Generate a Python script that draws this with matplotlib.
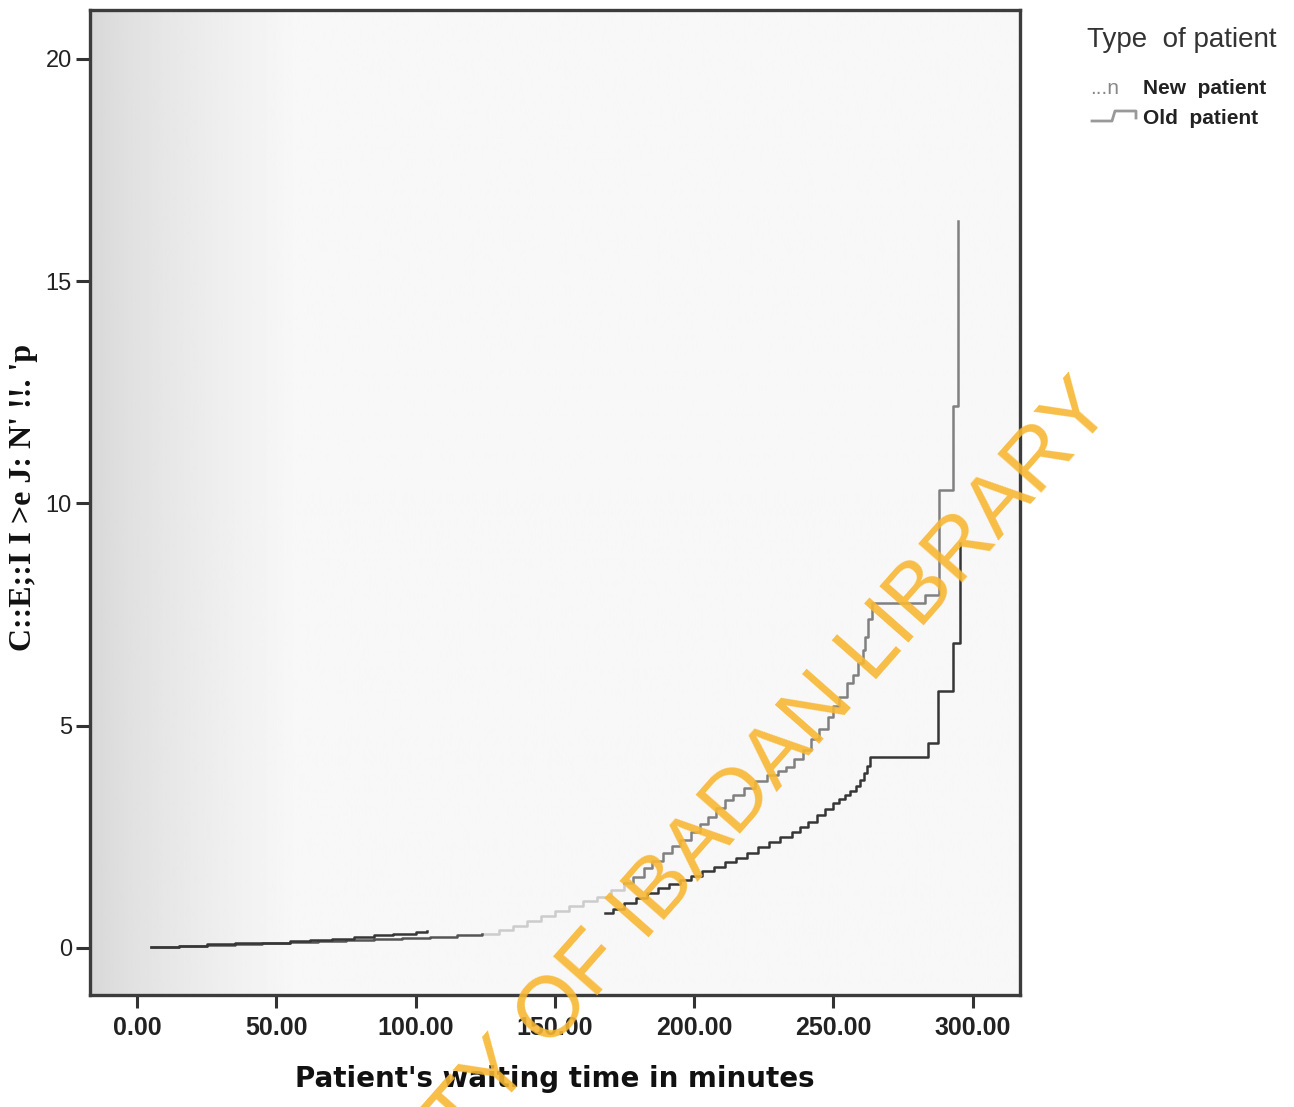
import numpy as np
import matplotlib
matplotlib.use("Agg")
import matplotlib.pyplot as plt
from matplotlib.lines import Line2D

# cumulative hazard
new_t = [5, 15, 25, 35, 45, 55, 65, 75, 85, 95, 105, 115, 124,
         130, 135, 140, 145, 150, 155, 160, 165, 170,
         175, 178, 182, 185, 189, 192, 195, 199, 202, 205, 208, 211, 214, 218,
         222, 226, 230, 233, 236, 239, 242, 245, 248, 250, 252, 255, 257, 259,
         260.5, 261.5, 262.5, 264, 283, 288, 293, 294.8]
new_h = [0.03, 0.05, 0.07, 0.09, 0.11, 0.13, 0.15, 0.17, 0.19, 0.22, 0.25, 0.28, 0.31,
         0.4, 0.5, 0.6, 0.72, 0.83, 0.95, 1.05, 1.15, 1.3,
         1.45, 1.6, 1.8, 1.95, 2.14, 2.3, 2.42, 2.6, 2.78, 2.95, 3.15, 3.33, 3.45, 3.6,
         3.75, 3.88, 3.98, 4.08, 4.25, 4.45, 4.7, 4.92, 5.2, 5.45, 5.65, 5.95, 6.15, 6.4,
         6.7, 7.0, 7.4, 7.75, 7.95, 10.3, 12.2, 16.35]

old_t = [5, 15, 25, 35, 45, 55, 62, 70, 78, 85, 92, 100, 104, np.nan,
         168, 171, 175, 179, 183, 187, 191, 195, 199, 203, 207, 211, 215, 219,
         223, 227, 231, 235, 238, 241, 244, 247, 250, 252, 254, 256, 258, 259.5,
         261, 262, 263, 284, 287.6, 293, 295.5]
old_h = [0.03, 0.05, 0.08, 0.1, 0.12, 0.15, 0.17, 0.2, 0.24, 0.28, 0.32, 0.36, 0.38, np.nan,
         0.79, 0.88, 1.0, 1.12, 1.24, 1.34, 1.44, 1.53, 1.62, 1.72, 1.83, 1.93, 2.03, 2.14,
         2.26, 2.38, 2.5, 2.6, 2.72, 2.84, 2.98, 3.12, 3.27, 3.36, 3.45, 3.52, 3.65, 3.78,
         3.94, 4.1, 4.3, 4.6, 5.77, 6.87, 9.12]

x_ticks = [0, 50, 100, 150, 200, 250, 300]
y_ticks = [0, 5, 10, 15, 20]

W, H = 1294, 1107
fig = plt.figure(figsize=(W / 100, H / 100), dpi=100)
ax = fig.add_axes([90 / W, 1 - 995 / H, 930 / W, 985 / H])
ax.set_xlim(-16.9, 317)
ax.set_ylim(-1.06, 21.1)

# scanned-paper shading, darkest at the left edge of the plot area
f = np.linspace(0, 1, 400)
grad = 0.84 + 0.13 * np.clip(f / 0.22, 0, 1) ** 0.7
ax.imshow(grad[None, :], extent=[0, 1, 0, 1], transform=ax.transAxes,
          cmap="gray", vmin=0, vmax=1, aspect="auto", zorder=0)

t_new = np.array(new_t)
h_new = np.array(new_h)
i1 = np.searchsorted(t_new, 124)
i2 = np.searchsorted(t_new, 175)
ax.plot(t_new[:i1 + 1], h_new[:i1 + 1], drawstyle="steps-post",
        color="#555555", lw=1.8, zorder=3)
ax.plot(t_new[i1:i2 + 1], h_new[i1:i2 + 1], drawstyle="steps-post",
        color="#cccccc", lw=1.8, zorder=2)
ax.plot(t_new[i2:], h_new[i2:], drawstyle="steps-post",
        color="#808080", lw=1.8, zorder=3)
ax.plot(old_t, old_h, drawstyle="steps-post", color="#363636", lw=1.8, zorder=4)

for s in ax.spines.values():
    s.set_color("#3c3c3c")
    s.set_linewidth(2.4)

ax.set_xticks(x_ticks)
ax.set_xticklabels([f"{v:.2f}" for v in x_ticks], family="Liberation Sans",
                   fontsize=18, color="#222222", fontweight="bold")
ax.set_yticks(y_ticks)
ax.set_yticklabels([str(v) for v in y_ticks], family="Liberation Sans",
                   fontsize=17, color="#222222")
ax.tick_params(axis="x", length=9, width=2.2, color="#333333", pad=6)
ax.tick_params(axis="y", length=10, width=2.2, color="#333333", pad=3)

ax.set_xlabel("Patient's waiting time in minutes", family="DejaVu Sans",
              fontsize=20, fontweight="bold", color="#111111", labelpad=18)

# garbled y label as it appears on the scan
fig.text(24 / W, 1 - 497 / H, "C::E;:I I >e J: N' !!. 'p", rotation=90,
         ha="center", va="center", family="Liberation Serif",
         fontweight="bold", fontsize=23, color="#111111")

# legend
fig.text(1087 / W, 1 - 40 / H, "Type  of patient", family="Liberation Sans",
         fontsize=20, color="#333333", va="center", ha="left")
fig.text(1090 / W, 1 - 89 / H, "...n", family="Liberation Sans",
         fontsize=15, color="#888888", va="center", ha="left")
fig.text(1143 / W, 1 - 89 / H, "New  patient", family="Liberation Sans",
         fontsize=15, color="#222222", va="center", ha="left", fontweight="bold")
fig.text(1143 / W, 1 - 118 / H, "Old  patient", family="Liberation Sans",
         fontsize=15, color="#222222", va="center", ha="left", fontweight="bold")
fig.add_artist(Line2D([1092 / W, 1112 / W, 1115 / W, 1136 / W, 1136 / W],
                      [1 - 121 / H, 1 - 121 / H, 1 - 111 / H, 1 - 111 / H, 1 - 118 / H],
                      color="#999999", lw=2))

# library watermark
fig.text(637 / W, 1 - 917 / H, "UNIVERSITY OF IBADAN LIBRARY", rotation=48.6,
         rotation_mode="anchor", ha="center", va="center",
         family="Liberation Sans", fontsize=62, color="#f7b733", alpha=0.9,
         zorder=10)

fig.savefig("out.png", dpi=100)
